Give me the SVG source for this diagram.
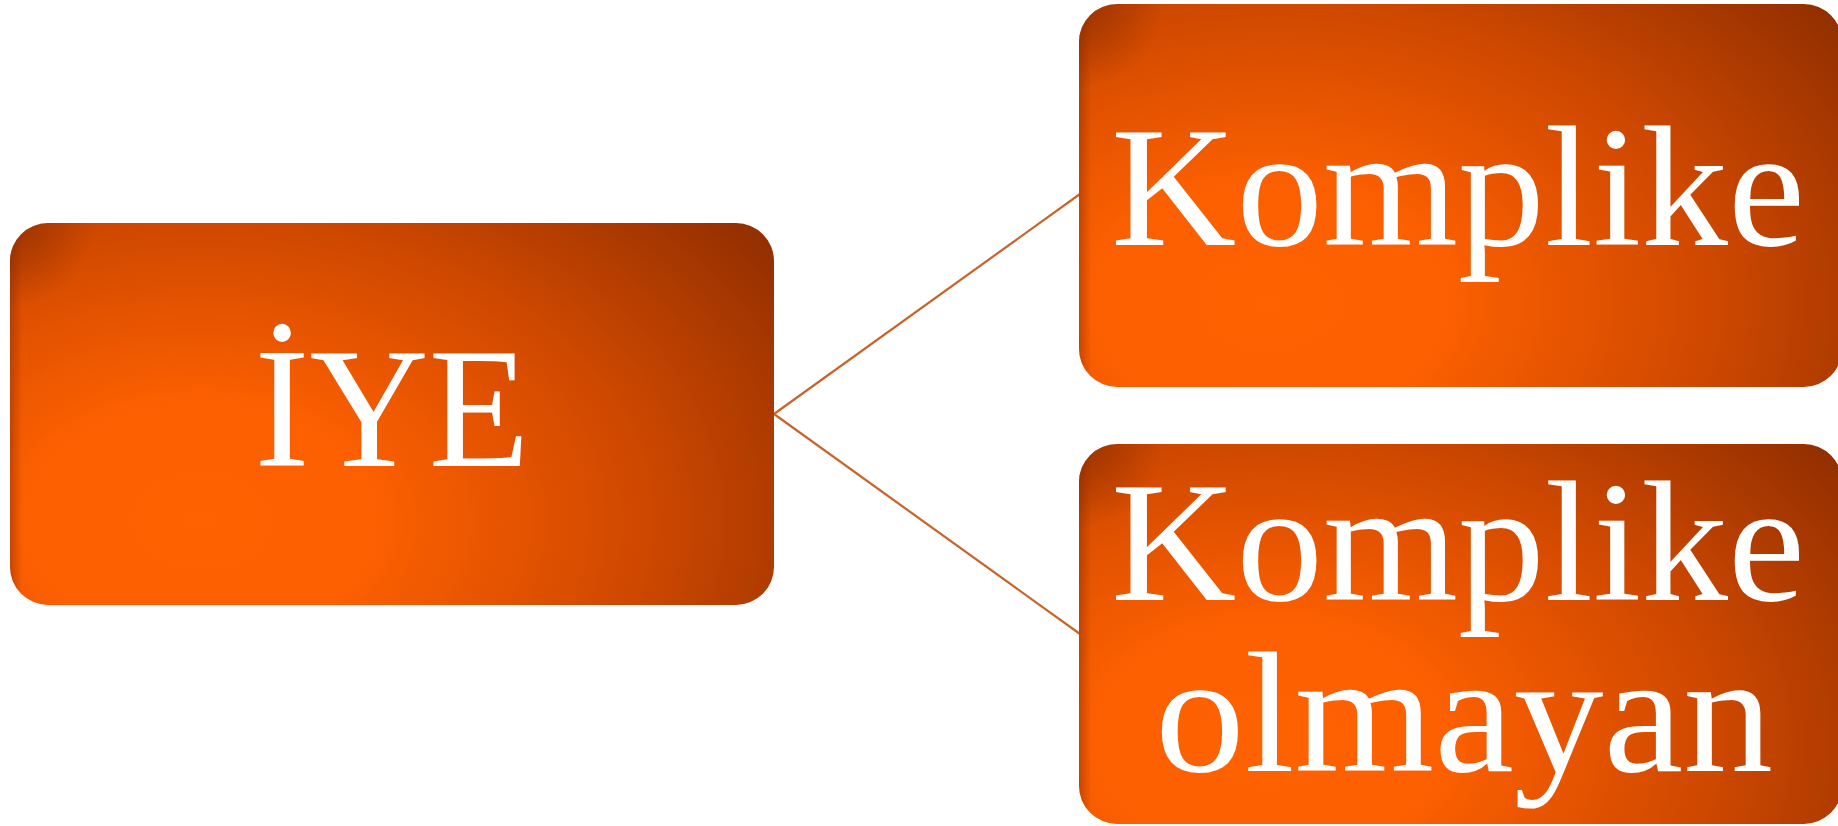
<svg xmlns="http://www.w3.org/2000/svg" width="1838" height="826" viewBox="0 0 1838 826">
<defs>
<radialGradient id="fill" cx="0.25" cy="0.78" r="0.95" fx="0.25" fy="0.78" gradientTransform="translate(0.25,0.78) scale(1,1.35) translate(-0.25,-0.78)">
<stop offset="0" stop-color="#ff6200"/>
<stop offset="0.25" stop-color="#fb5f00"/>
<stop offset="0.6" stop-color="#d04900"/>
<stop offset="1" stop-color="#8e2d00"/>
</radialGradient>
<linearGradient id="edge" x1="0" y1="0" x2="1" y2="0">
<stop offset="0" stop-color="#7a2400" stop-opacity="0.4"/>
<stop offset="0.016" stop-color="#7a2400" stop-opacity="0"/>
</linearGradient>
<radialGradient id="corner" cx="0" cy="0" r="0.11" gradientTransform="scale(1,2)">
<stop offset="0" stop-color="#7a2600" stop-opacity="0.6"/>
<stop offset="1" stop-color="#7a2600" stop-opacity="0"/>
</radialGradient>
<style>
.box{fill:url(#fill);}
.edge{fill:url(#edge);}
.corner{fill:url(#corner);}
.lbl{font-family:"Liberation Serif","Times New Roman",serif;font-size:171px;fill:#ffffff;text-anchor:middle;}
.conn{stroke:#c8642a;stroke-width:2.2;fill:none;}
</style>
</defs>
<g id="connectors">
<line class="conn" x1="774" y1="414" x2="1080" y2="194"/>
<line class="conn" x1="774" y1="414" x2="1080" y2="634"/>
</g>
<g id="node-iye">
<rect class="box" x="10" y="223" width="764" height="382" rx="38" ry="38"/>
<rect class="corner" x="10" y="223" width="764" height="382" rx="38" ry="38"/>
<rect class="edge" x="10" y="223" width="764" height="382" rx="38" ry="38"/>
<text class="lbl" x="392" y="466" textLength="275" lengthAdjust="spacingAndGlyphs">İYE</text>
</g>
<g id="node-komplike">
<rect class="box" x="1079" y="4" width="763" height="383" rx="38" ry="38"/>
<rect class="corner" x="1079" y="4" width="763" height="383" rx="38" ry="38"/>
<rect class="edge" x="1079" y="4" width="763" height="383" rx="38" ry="38"/>
<text class="lbl" x="1458" y="245" textLength="694" lengthAdjust="spacingAndGlyphs">Komplike</text>
</g>
<g id="node-komplike-olmayan">
<rect class="box" x="1079" y="444" width="763" height="380" rx="38" ry="38"/>
<rect class="corner" x="1079" y="444" width="763" height="380" rx="38" ry="38"/>
<rect class="edge" x="1079" y="444" width="763" height="380" rx="38" ry="38"/>
<text class="lbl" x="1458" y="600" textLength="694" lengthAdjust="spacingAndGlyphs">Komplike</text>
<text class="lbl" x="1464" y="771" textLength="618" lengthAdjust="spacingAndGlyphs">olmayan</text>
</g>
</svg>
